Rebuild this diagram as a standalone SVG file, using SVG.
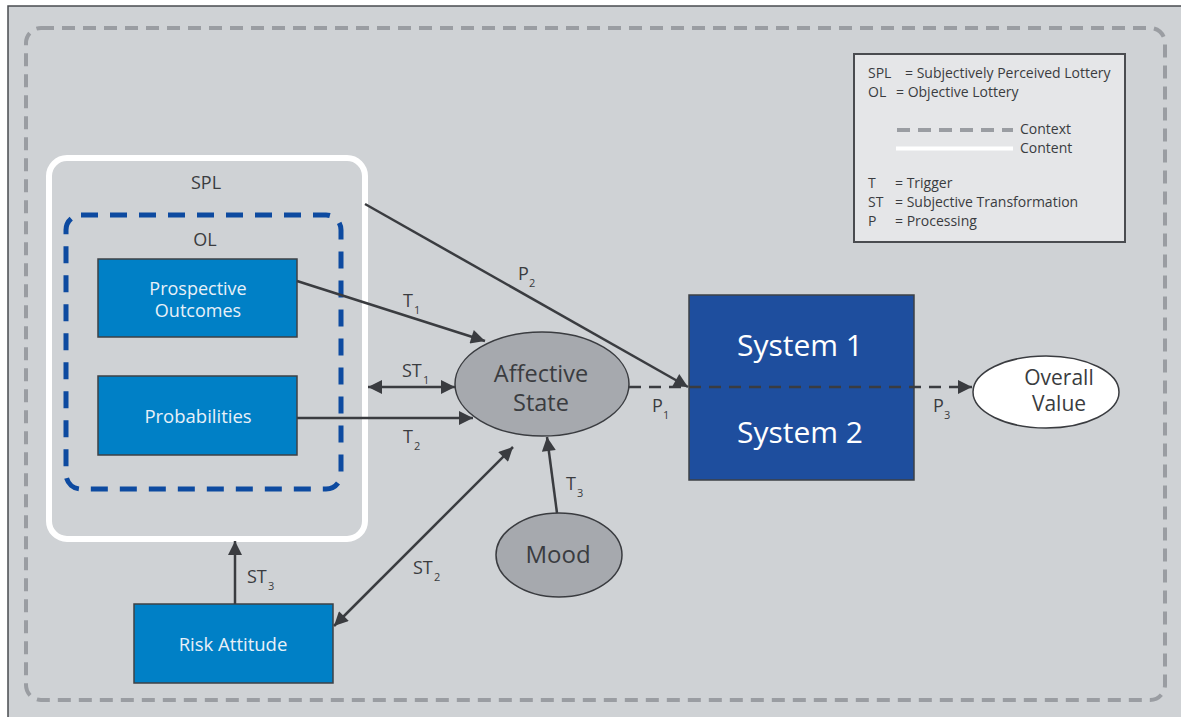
<svg xmlns="http://www.w3.org/2000/svg" width="1181" height="717" viewBox="0 0 1181 717">
<defs>
<marker id="ahb" viewBox="0 0 10 10" refX="10" refY="5" markerWidth="18" markerHeight="14" markerUnits="userSpaceOnUse" orient="auto-start-reverse">
<path d="M0,0 L10,5 L0,10 z" fill="#3a3c40"/>
</marker>
<style>
.t{font-family:"Open Sans","Noto Sans","Liberation Sans",sans-serif;fill:#3a3c40}
.w{font-family:"Open Sans","Noto Sans","Liberation Sans",sans-serif;fill:#e8f0f8}
.box{fill:#0080c6;stroke:#3e4145;stroke-width:1.5}
.ell{fill:#a6a9ae;stroke:#3a3c40;stroke-width:1.5}
.c{stroke:#3a3c40;stroke-width:2.5;fill:none}
.lab{font-size:18px}
.sub{font-size:11px}
.leg{font-size:14px}
</style>
</defs>
<rect x="8" y="6" width="1180" height="720" fill="#cfd2d5" stroke="#4a4c50" stroke-width="1.5"/>
<rect x="26" y="28" width="1139" height="672" rx="15" fill="none" stroke="#9a9da2" stroke-width="4" stroke-dasharray="13 8"/>

<g id="legend">
<rect x="854" y="54" width="271" height="188" fill="#e5e6e8" stroke="#4a4c50" stroke-width="2"/>
<text class="t leg" x="868" y="78">SPL</text><text class="t leg" x="905" y="78">= Subjectively Perceived Lottery</text>
<text class="t leg" x="868" y="97">OL</text><text class="t leg" x="896" y="97">= Objective Lottery</text>
<line x1="897" y1="130" x2="1013" y2="130" stroke="#9a9da2" stroke-width="4" stroke-dasharray="13 8"/>
<text class="t leg" x="1020" y="134">Context</text>
<line x1="896" y1="148.5" x2="1013" y2="148.5" stroke="#ffffff" stroke-width="4"/>
<text class="t leg" x="1020" y="153">Content</text>
<text class="t leg" x="868" y="188">T</text><text class="t leg" x="895" y="188">= Trigger</text>
<text class="t leg" x="868" y="207">ST</text><text class="t leg" x="895" y="207">= Subjective Transformation</text>
<text class="t leg" x="868" y="226">P</text><text class="t leg" x="895" y="226">= Processing</text>
</g>

<g id="spl">
<rect x="49" y="158" width="316" height="381" rx="18" fill="none" stroke="#ffffff" stroke-width="6"/>
<text class="t" x="206" y="189" font-size="18" text-anchor="middle">SPL</text>
</g>
<g id="ol">
<rect x="66" y="215" width="275" height="274" rx="15" fill="none" stroke="#0d4aa0" stroke-width="5" stroke-dasharray="17 12"/>
<text class="t" x="205" y="246" font-size="18" text-anchor="middle">OL</text>
</g>
<g id="prospective">
<rect class="box" x="98" y="259" width="199" height="78"/>
<text class="w" x="198" y="295" font-size="18" text-anchor="middle">Prospective</text>
<text class="w" x="198" y="317" font-size="18" text-anchor="middle">Outcomes</text>
</g>
<g id="probabilities">
<rect class="box" x="98" y="376" width="199" height="79"/>
<text class="w" x="198" y="423" font-size="18.5" text-anchor="middle">Probabilities</text>
</g>
<g id="risk">
<rect class="box" x="134" y="604" width="199" height="79"/>
<text class="w" x="233" y="651" font-size="18.5" text-anchor="middle">Risk Attitude</text>
</g>
<g id="affective">
<ellipse class="ell" cx="542" cy="384" rx="87" ry="52"/>
<text class="t" x="541" y="382" font-size="23.5" text-anchor="middle">Affective</text>
<text class="t" x="541" y="411" font-size="23.5" text-anchor="middle">State</text>
</g>
<g id="mood">
<ellipse class="ell" cx="559" cy="555" rx="63" ry="42"/>
<text class="t" x="558" y="563" font-size="24" text-anchor="middle">Mood</text>
</g>
<g id="system">
<rect x="689" y="295" width="225" height="185" fill="#1e4e9e" stroke="#3e4145" stroke-width="1.5"/>
<text x="800" y="356" font-size="30" text-anchor="middle" fill="#ffffff" font-family="Open Sans, Noto Sans, Liberation Sans, sans-serif">System 1</text>
<text x="800" y="443" font-size="30" text-anchor="middle" fill="#ffffff" font-family="Open Sans, Noto Sans, Liberation Sans, sans-serif">System 2</text>
</g>
<g id="overall">
<ellipse cx="1046" cy="392" rx="73" ry="36" fill="#ffffff" stroke="#3a3c40" stroke-width="1.5"/>
<text class="t" x="1059" y="385" font-size="21" text-anchor="middle">Overall</text>
<text class="t" x="1059" y="411" font-size="21" text-anchor="middle">Value</text>
</g>

<g id="connectors">
<line class="c" x1="365" y1="204" x2="688" y2="387" marker-end="url(#ahb)"/>
<line class="c" x1="297" y1="281" x2="485" y2="341" marker-end="url(#ahb)"/>
<line class="c" x1="368" y1="387" x2="455" y2="387" marker-start="url(#ahb)" marker-end="url(#ahb)"/>
<line class="c" x1="297" y1="418" x2="473" y2="418" marker-end="url(#ahb)"/>
<line class="c" x1="629" y1="387" x2="972" y2="387" stroke-dasharray="12 8" marker-end="url(#ahb)"/>
<line class="c" x1="557" y1="513" x2="547" y2="437" marker-end="url(#ahb)"/>
<line class="c" x1="334" y1="626" x2="513" y2="447" marker-start="url(#ahb)" marker-end="url(#ahb)"/>
<line class="c" x1="235" y1="604" x2="235" y2="541" marker-end="url(#ahb)"/>

<text class="t lab" x="518" y="280">P</text><text class="t sub" x="529" y="287">2</text>
<text class="t lab" x="403" y="307">T</text><text class="t sub" x="414" y="314">1</text>
<text class="t lab" x="402" y="377">ST</text><text class="t sub" x="423" y="384">1</text>
<text class="t lab" x="403" y="443">T</text><text class="t sub" x="414" y="450">2</text>
<text class="t lab" x="652" y="412">P</text><text class="t sub" x="663" y="419">1</text>
<text class="t lab" x="933" y="412">P</text><text class="t sub" x="944" y="419">3</text>
<text class="t lab" x="566" y="490">T</text><text class="t sub" x="577" y="497">3</text>
<text class="t lab" x="413" y="574">ST</text><text class="t sub" x="434" y="581">2</text>
<text class="t lab" x="247" y="583">ST</text><text class="t sub" x="268" y="590">3</text>
</g>
</svg>
